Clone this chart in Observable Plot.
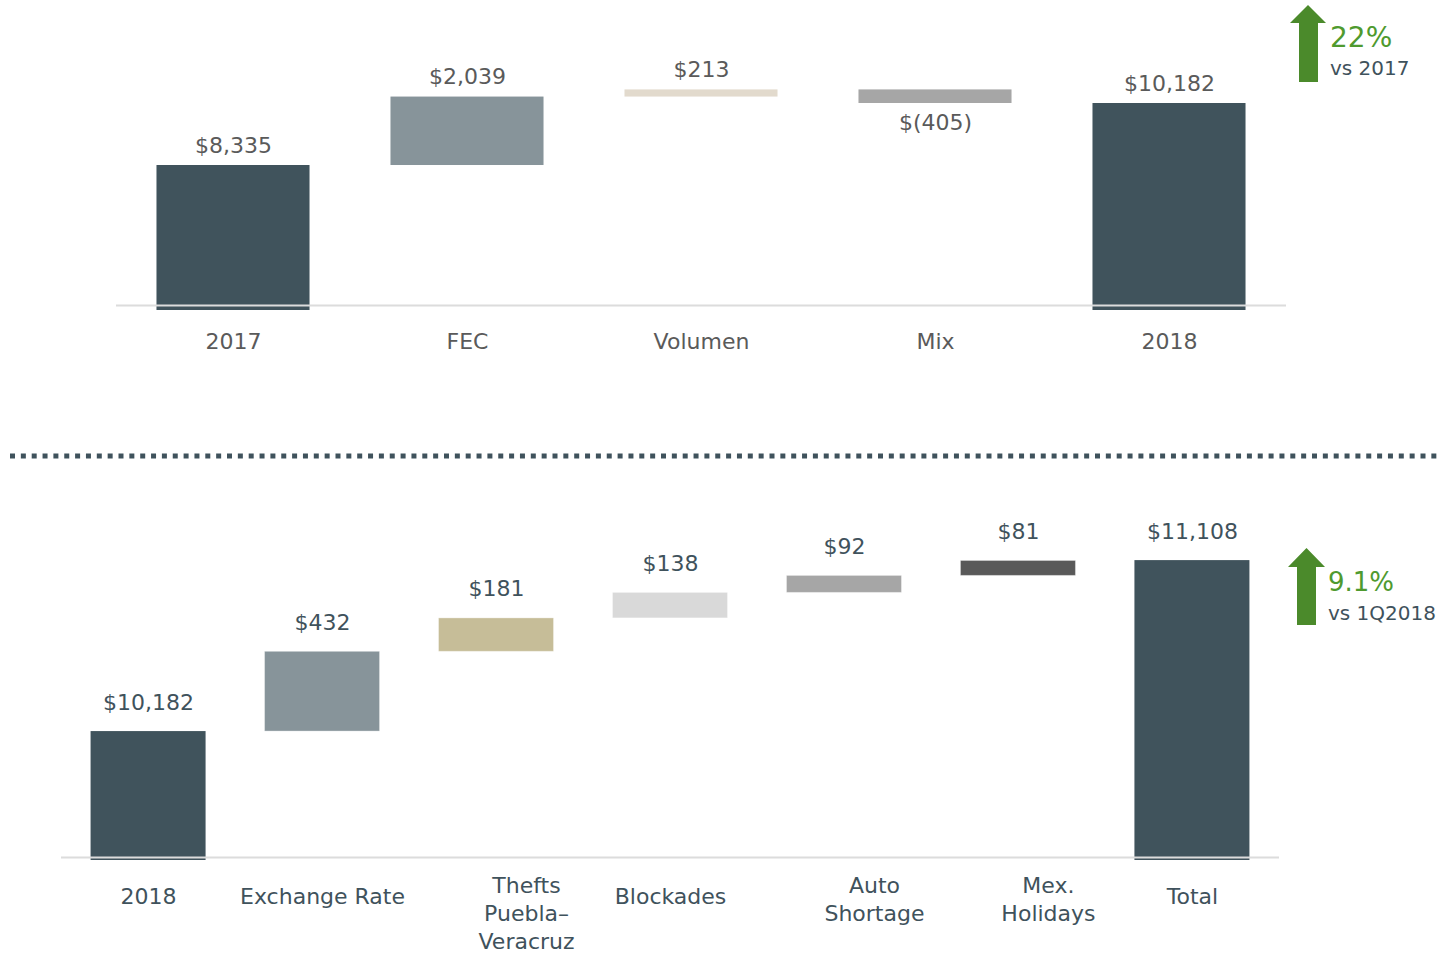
<!DOCTYPE html>
<html>
<head>
<meta charset="utf-8">
<script src="https://cdn.jsdelivr.net/npm/d3@7"></script>
<script src="https://cdn.jsdelivr.net/npm/@observablehq/plot@0.6"></script>
<style>
  html, body { margin: 0; padding: 0; background: #fff; }
  #page { position: relative; width: 1445px; height: 956px; overflow: hidden; font-family: "DejaVu Sans", sans-serif; }
  .chart { position: absolute; left: 0; }
  #overlay { position: absolute; left: 0; top: 0; }
</style>
</head>
<body>
<div id="page">
  <div id="top" class="chart" style="top:0"></div>
  <div id="bottom" class="chart" style="top:470px"></div>
  <svg id="overlay" width="1445" height="956"></svg>
</div>
<script>
// ---------- Data ----------
const topCategories = ["2017", "FEC", "Volumen", "Mix", "2018"];
const topValues     = [8335, 2039, 213, -405, 10182];
const topKinds      = ["total", "delta", "delta", "delta", "total"];
const topColors     = ["#40535c", "#87949a", "#e2dacd", "#a6a6a6", "#40535c"];

const bottomCategories = ["2018", "Exchange Rate", "Thefts\nPuebla–\nVeracruz", "Blockades", "Auto\nShortage", "Mex.\nHolidays", "Total"];
const bottomValues     = [10182, 432, 181, 138, 92, 81, 11108];
const bottomKinds      = ["total", "delta", "delta", "delta", "delta", "delta", "total"];
const bottomColors     = ["#40535c", "#87949a", "#c6bd98", "#d9d9d9", "#a6a6a6", "#595959", "#40535c"];

const topBadge    = {value: "22%",  label: "vs 2017"};
const bottomBadge = {value: "9.1%", label: "vs 1Q2018"};

// ---------- Helpers ----------
function waterfall(cats, vals, kinds, colors, base) {
  let run = 0;
  return cats.map((c, i) => {
    let y1, y2;
    if (kinds[i] === "total") { y1 = base; y2 = vals[i]; run = vals[i]; }
    else { y1 = run; y2 = run + vals[i]; run = y2; }
    return {cat: c, value: vals[i], kind: kinds[i], color: colors[i], y1, y2,
            hi: Math.max(y1, y2), lo: Math.min(y1, y2)};
  });
}
const fmtNum = d3.format(",");
const fmtMoney = v => v < 0 ? "$(" + fmtNum(-v) + ")" : "$" + fmtNum(v);

// ---------- Top chart ----------
const topBase = 4165;
const topData = waterfall(topCategories, topValues, topKinds, topColors, topBase);

const topPlot = Plot.plot({
  width: 1445, height: 400,
  marginTop: 60, marginBottom: 95, marginLeft: 116, marginRight: 159,
  x: {domain: topCategories, paddingInner: 0.346, paddingOuter: 0.173, round: false, axis: null},
  y: {domain: [topBase, 11463], axis: null},
  color: {type: "identity"},
  style: {fontFamily: "DejaVu Sans", background: "transparent", overflow: "visible"},
  marks: [
    Plot.barY(topData.filter(d => d.kind === "total"), {x: "cat", y1: "y1", y2: "y2", fill: "color", insetBottom: -5}),
    Plot.barY(topData.filter(d => d.kind !== "total"), {x: "cat", y1: "y1", y2: "y2", fill: "color"}),
    Plot.ruleY([topBase], {stroke: "#dcdcdc", strokeWidth: 2}),
    Plot.text(topData.filter(d => d.value >= 0), {x: "cat", y: "hi", text: d => fmtMoney(d.value), dy: -20, fontSize: 22, fill: "#5a5a5a"}),
    Plot.text(topData.filter(d => d.value < 0), {x: "cat", y: "lo", text: d => fmtMoney(d.value), dy: 19, fontSize: 22, fill: "#5a5a5a"}),
    Plot.text(topData, {x: "cat", frameAnchor: "bottom", text: "cat", dy: 43, fontSize: 22, fill: "#5a5a5a"})
  ]
});
document.getElementById("top").appendChild(topPlot);

// ---------- Bottom chart ----------
const botBase = 9500;
const botData = waterfall(bottomCategories, bottomValues, bottomKinds, bottomColors, botBase);

const botPlot = Plot.plot({
  width: 1445, height: 486,
  marginTop: 60, marginBottom: 99, marginLeft: 61, marginRight: 166,
  x: {domain: bottomCategories, paddingInner: 0.339, paddingOuter: 0.17, round: false, axis: null},
  y: {domain: [botBase, 11271], axis: null},
  color: {type: "identity"},
  style: {fontFamily: "DejaVu Sans", background: "transparent", overflow: "visible"},
  marks: [
    Plot.barY(botData.filter(d => d.kind === "total"), {x: "cat", y1: "y1", y2: "y2", fill: "color", insetBottom: -3}),
    Plot.barY(botData.filter(d => d.kind !== "total"), {x: "cat", y1: "y1", y2: "y2", fill: "color", stroke: "#ffffff", strokeOpacity: 0.35}),
    Plot.ruleY([botBase], {stroke: "#dcdcdc", strokeWidth: 2}),
    Plot.text(botData, {x: "cat", y: "hi", text: d => fmtMoney(d.value), dy: -29, fontSize: 22, fill: "#3f525c", style: "letter-spacing:0.6px"}),
    Plot.text(botData.filter(d => !d.cat.includes("\n")), {x: "cat", frameAnchor: "bottom", text: "cat", dy: 46, fontSize: 22, fill: "#3f525c"}),
    Plot.text(botData.filter(d => d.cat.includes("\n")), {x: "cat", frameAnchor: "bottom", text: "cat", dx: 30, dy: 15, lineAnchor: "top", lineHeight: 1.29, fontSize: 22, fill: "#3f525c"})
  ]
});
document.getElementById("bottom").appendChild(botPlot);

// ---------- Overlay: separator and badges ----------
const ov = d3.select("#overlay");
ov.append("line").attr("x1", 10).attr("x2", 1442).attr("y1", 456).attr("y2", 456)
  .attr("stroke", "#3f525c").attr("stroke-width", 5).attr("stroke-dasharray", "5 5.85");

function arrow(x0, x1, sx0, sx1, yTip, yHead, yBot) {
  const xm = (x0 + x1) / 2;
  return `M${xm},${yTip} L${x1},${yHead} L${sx1},${yHead} L${sx1},${yBot} L${sx0},${yBot} L${sx0},${yHead} L${x0},${yHead} Z`;
}
ov.append("path").attr("d", arrow(1290, 1326, 1299, 1318, 5, 23, 82)).attr("fill", "#4b8a2b");
ov.append("text").attr("x", 1330).attr("y", 47).attr("font-size", 28).attr("fill", "#4f9a2f")
  .attr("font-family", "DejaVu Sans").text(topBadge.value);
ov.append("text").attr("x", 1330).attr("y", 75).attr("font-size", 20).attr("fill", "#3f525c")
  .attr("font-family", "DejaVu Sans").text(topBadge.label);

ov.append("path").attr("d", arrow(1288, 1325, 1297, 1316, 548, 567, 625)).attr("fill", "#4b8a2b");
ov.append("text").attr("x", 1328).attr("y", 591).attr("font-size", 26).attr("fill", "#4f9a2f")
  .attr("font-family", "DejaVu Sans").text(bottomBadge.value);
ov.append("text").attr("x", 1328).attr("y", 620).attr("font-size", 20).attr("fill", "#3f525c")
  .attr("font-family", "DejaVu Sans").text(bottomBadge.label);
</script>
</body>
</html>
